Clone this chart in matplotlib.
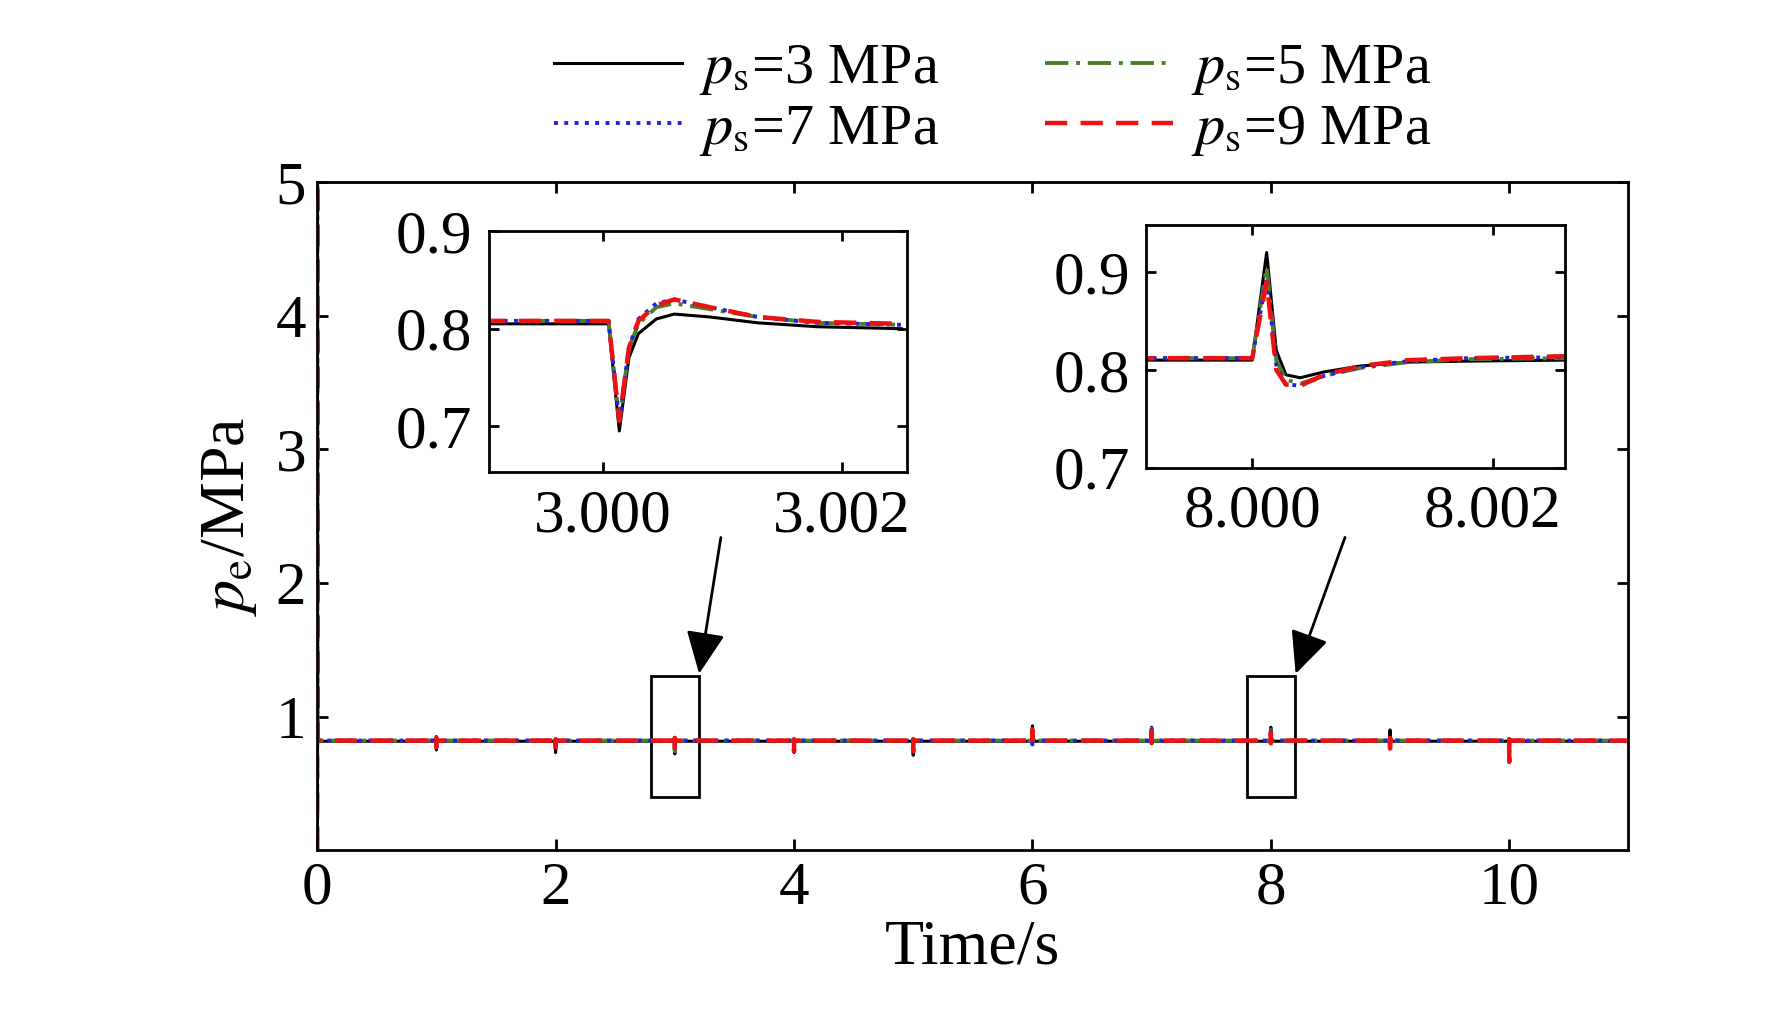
import matplotlib
matplotlib.use("Agg")
import matplotlib.pyplot as plt
from matplotlib.patches import Rectangle
import numpy as np

plt.rcParams['font.family'] = ['Liberation Serif', 'DejaVu Serif']
plt.rcParams['mathtext.fontset'] = 'stix'

labels = [r'$p_{\mathrm{s}}$=3 MPa', r'$p_{\mathrm{s}}$=5 MPa', r'$p_{\mathrm{s}}$=7 MPa', r'$p_{\mathrm{s}}$=9 MPa']
colors = ['black', '#4a7f2a', '#2222dd', '#ee1111']
styles = ['-', (0, (6, 2, 1, 2)), ':', (0, (5, 3))]
widths = [2.2, 2.8, 2.8, 3.2]

# main plot data
baseline = [0.815, 0.82, 0.82, 0.82]
event_times = [1, 2, 3, 4, 5, 6, 7, 8, 9, 10]
event_min = [[0.75, 0.73, 0.72, 0.73, 0.71, 0.80, 0.80, 0.80, 0.80, 0.80],
             [0.77, 0.75, 0.74, 0.74, 0.73, 0.80, 0.80, 0.80, 0.78, 0.74],
             [0.77, 0.75, 0.74, 0.73, 0.73, 0.79, 0.80, 0.80, 0.77, 0.70],
             [0.77, 0.75, 0.74, 0.74, 0.74, 0.79, 0.80, 0.80, 0.76, 0.66]]
event_max = [[0.85, 0.83, 0.83, 0.83, 0.83, 0.93, 0.92, 0.92, 0.90, 0.83],
             [0.84, 0.83, 0.84, 0.83, 0.83, 0.92, 0.91, 0.90, 0.84, 0.83],
             [0.84, 0.83, 0.84, 0.83, 0.83, 0.91, 0.90, 0.89, 0.84, 0.83],
             [0.84, 0.83, 0.84, 0.83, 0.83, 0.90, 0.89, 0.88, 0.84, 0.83]]
start_peak = 5.0

# inset 1 data (t around 3 s)
in1_t = [2.9990, 3.00005, 3.00014, 3.00022, 3.0003, 3.00045, 3.0006, 3.0009, 3.0013, 3.0018, 3.0025]
in1_v = [[0.805, 0.805, 0.695, 0.77, 0.795, 0.810, 0.815, 0.812, 0.806, 0.802, 0.800],
         [0.808, 0.808, 0.705, 0.78, 0.805, 0.822, 0.826, 0.820, 0.812, 0.806, 0.804],
         [0.808, 0.808, 0.705, 0.78, 0.810, 0.826, 0.830, 0.822, 0.812, 0.806, 0.804],
         [0.808, 0.808, 0.705, 0.78, 0.808, 0.824, 0.830, 0.822, 0.812, 0.807, 0.805]]
# inset 2 data (t around 8 s)
in2_t = [7.9990, 8.00000, 8.00012, 8.00020, 8.00028, 8.0004, 8.0006, 8.0009, 8.0013, 8.0018, 8.0026]
in2_v = [[0.810, 0.810, 0.920, 0.820, 0.795, 0.792, 0.798, 0.804, 0.808, 0.809, 0.810],
         [0.812, 0.812, 0.905, 0.810, 0.790, 0.786, 0.794, 0.802, 0.808, 0.811, 0.812],
         [0.812, 0.812, 0.895, 0.805, 0.785, 0.784, 0.794, 0.803, 0.809, 0.812, 0.813],
         [0.812, 0.812, 0.890, 0.800, 0.785, 0.784, 0.795, 0.804, 0.810, 0.812, 0.814]]

fig = plt.figure(figsize=(17.72, 10.28), dpi=100)
ax = fig.add_axes([0.179, 0.173, 0.740, 0.650])

handles = []
for i in range(4):
    t = [0, 0, 0.002]
    v = [0, start_peak, baseline[i]]
    for k, et in enumerate(event_times):
        t += [et - 0.001, et, et, et + 0.001]
        v += [baseline[i], event_min[i][k], event_max[i][k], baseline[i]]
    t.append(11)
    v.append(baseline[i])
    h, = ax.plot(t, v, color=colors[i], linestyle=styles[i], lw=widths[i], label=labels[i])
    handles.append(h)

ax.set_xlim(0, 11)
ax.set_ylim(0, 5)
ax.set_xticks([0, 2, 4, 6, 8, 10])
ax.set_yticks([1, 2, 3, 4, 5])
ax.tick_params(direction='in', labelsize=44, length=8, width=2, top=True, right=True, pad=8)
for s in ax.spines.values():
    s.set_linewidth(2)
ax.set_xlabel('Time/s', fontsize=46, labelpad=2)
ax.set_ylabel(r'$p_{\mathrm{e}}$/MPa', fontsize=46, labelpad=12)

for x0 in (2.8, 7.8):
    ax.add_patch(Rectangle((x0, 0.4), 0.4, 0.9, fill=False, lw=2, ec='black'))
for (xs, ys), (xe, ye) in [((3.39, 2.36), (3.2, 1.3)), ((8.63, 2.36), (8.2, 1.3))]:
    ax.annotate('', xy=(xe, ye), xytext=(xs, ys),
                arrowprops=dict(arrowstyle='-|>,head_length=2.6,head_width=1.2', lw=2, color='black'))

order = [0, 1, 2, 3]
fig.legend([handles[i] for i in [0, 2, 1, 3]], [labels[i] for i in [0, 2, 1, 3]],
           loc='upper center', bbox_to_anchor=(0.56, 1.01), ncol=2, fontsize=42,
           frameon=False, handlelength=2.2, handletextpad=0.3, columnspacing=1.8, labelspacing=0.1)

ax1 = fig.add_axes([0.276, 0.541, 0.236, 0.234])
for i in range(4):
    ax1.plot(in1_t, in1_v[i], color=colors[i], linestyle=styles[i], lw=widths[i])
ax1.set_xlim(2.99905, 3.00255)
ax1.set_ylim(0.653, 0.9)
ax1.set_xticks([3.000, 3.002])
ax1.set_xticklabels(['3.000', '3.002'])
ax1.set_yticks([0.7, 0.8, 0.9])

ax2 = fig.add_axes([0.647, 0.545, 0.236, 0.236])
for i in range(4):
    ax2.plot(in2_t, in2_v[i], color=colors[i], linestyle=styles[i], lw=widths[i])
ax2.set_xlim(7.99912, 8.0026)
ax2.set_ylim(0.7, 0.948)
ax2.set_xticks([8.000, 8.002])
ax2.set_xticklabels(['8.000', '8.002'])
ax2.set_yticks([0.7, 0.8, 0.9])

for a in (ax1, ax2):
    a.tick_params(direction='in', labelsize=44, length=7, width=2, top=True, right=True, pad=12)
    for s in a.spines.values():
        s.set_linewidth(2)

fig.savefig('out.png', dpi=100)
